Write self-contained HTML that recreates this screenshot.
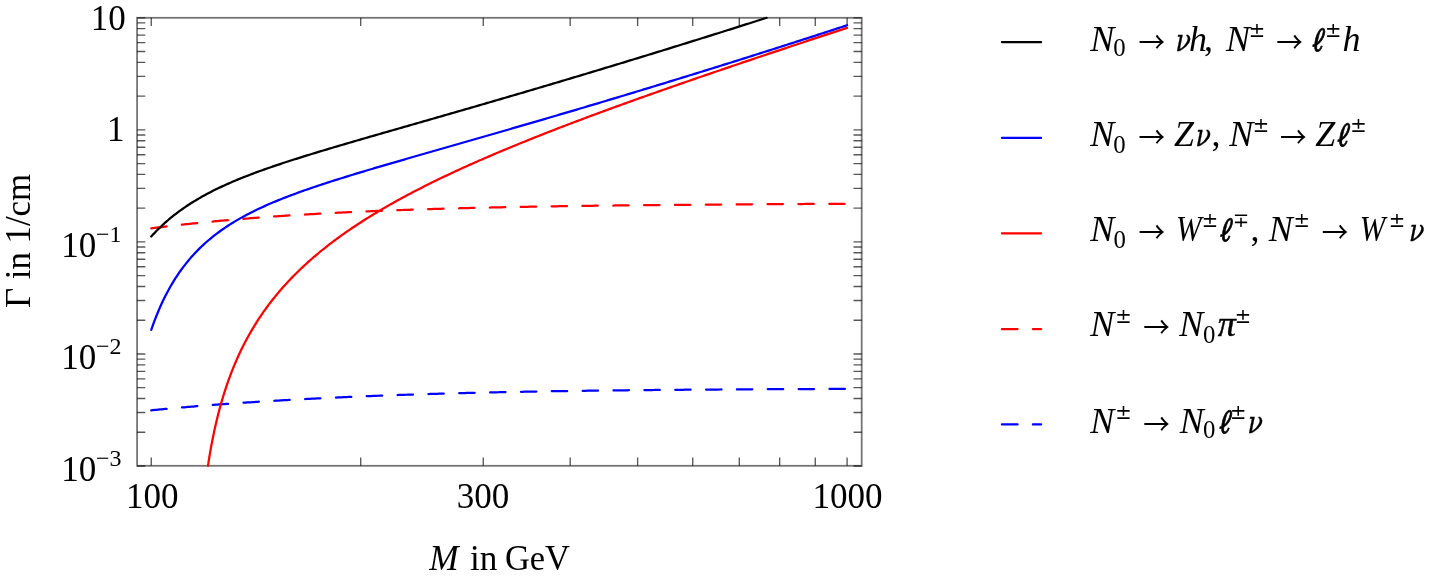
<!DOCTYPE html>
<html><head><meta charset="utf-8"><title>Decay widths</title>
<style>html,body{margin:0;padding:0;background:#fff;overflow:hidden;width:1429px;height:576px;}svg{display:block;}text{fill:#000;}</style></head>
<body><svg width="1429" height="576" viewBox="0 0 1429 576" font-family="'Liberation Serif', serif">
<rect x="137.10" y="17.80" width="724.60" height="448.00" fill="none" stroke="#000" stroke-opacity="0.54" stroke-width="1.8"/>
<path d="M151.25,465.80 V457.60 M151.25,17.80 V26.00 M360.72,465.80 V457.60 M360.72,17.80 V26.00 M483.25,465.80 V457.60 M483.25,17.80 V26.00 M570.19,465.80 V457.60 M570.19,17.80 V26.00 M637.63,465.80 V457.60 M637.63,17.80 V26.00 M692.73,465.80 V457.60 M692.73,17.80 V26.00 M739.31,465.80 V457.60 M739.31,17.80 V26.00 M779.67,465.80 V457.60 M779.67,17.80 V26.00 M815.26,465.80 V457.60 M815.26,17.80 V26.00 M847.10,465.80 V457.60 M847.10,17.80 V26.00 M137.10,466.00 H145.30 M861.70,466.00 H853.50 M137.10,432.27 H145.30 M861.70,432.27 H853.50 M137.10,412.54 H145.30 M861.70,412.54 H853.50 M137.10,398.54 H145.30 M861.70,398.54 H853.50 M137.10,387.68 H145.30 M861.70,387.68 H853.50 M137.10,378.81 H145.30 M861.70,378.81 H853.50 M137.10,371.31 H145.30 M861.70,371.31 H853.50 M137.10,364.81 H145.30 M861.70,364.81 H853.50 M137.10,359.08 H145.30 M861.70,359.08 H853.50 M137.10,353.95 H145.30 M861.70,353.95 H853.50 M137.10,320.22 H145.30 M861.70,320.22 H853.50 M137.10,300.49 H145.30 M861.70,300.49 H853.50 M137.10,286.49 H145.30 M861.70,286.49 H853.50 M137.10,275.63 H145.30 M861.70,275.63 H853.50 M137.10,266.76 H145.30 M861.70,266.76 H853.50 M137.10,259.26 H145.30 M861.70,259.26 H853.50 M137.10,252.76 H145.30 M861.70,252.76 H853.50 M137.10,247.03 H145.30 M861.70,247.03 H853.50 M137.10,241.90 H145.30 M861.70,241.90 H853.50 M137.10,208.17 H145.30 M861.70,208.17 H853.50 M137.10,188.44 H145.30 M861.70,188.44 H853.50 M137.10,174.44 H145.30 M861.70,174.44 H853.50 M137.10,163.58 H145.30 M861.70,163.58 H853.50 M137.10,154.71 H145.30 M861.70,154.71 H853.50 M137.10,147.21 H145.30 M861.70,147.21 H853.50 M137.10,140.71 H145.30 M861.70,140.71 H853.50 M137.10,134.98 H145.30 M861.70,134.98 H853.50 M137.10,129.85 H145.30 M861.70,129.85 H853.50 M137.10,96.12 H145.30 M861.70,96.12 H853.50 M137.10,76.39 H145.30 M861.70,76.39 H853.50 M137.10,62.39 H145.30 M861.70,62.39 H853.50 M137.10,51.53 H145.30 M861.70,51.53 H853.50 M137.10,42.66 H145.30 M861.70,42.66 H853.50 M137.10,35.16 H145.30 M861.70,35.16 H853.50 M137.10,28.66 H145.30 M861.70,28.66 H853.50 M137.10,22.93 H145.30 M861.70,22.93 H853.50 M137.10,17.80 H145.30 M861.70,17.80 H853.50" stroke="#000" stroke-opacity="0.66" stroke-width="1.35" fill="none"/>
<g fill="none" stroke-width="2.25" stroke-linejoin="round" stroke-linecap="round">
<path d="M151.25,410.28 L152.99,410.11 L154.74,409.94 L156.48,409.78 L158.23,409.61 L159.97,409.45 L161.71,409.28 L163.46,409.12 L165.20,408.96 L166.95,408.80 L168.69,408.64 L170.43,408.48 L172.18,408.33 L173.92,408.17 L175.67,408.01 L177.41,407.86 L179.15,407.71 L180.90,407.56 L182.64,407.41 L184.39,407.26 L186.13,407.11 L187.87,406.96 L189.62,406.81 L191.36,406.67 L193.11,406.52 L194.85,406.38 L196.59,406.24 L198.34,406.09 L200.08,405.95 L201.83,405.81 L203.57,405.67 L205.31,405.53 L207.06,405.40 L208.80,405.26 L210.55,405.13 L212.29,404.99 L214.03,404.86 L215.78,404.73 L217.52,404.59 L219.27,404.46 L221.01,404.33 L222.75,404.20 L224.50,404.08 L226.24,403.95 L227.99,403.82 L229.73,403.70 L231.47,403.57 L233.22,403.45 L234.96,403.33 L236.71,403.20 L238.45,403.08 L240.19,402.96 L241.94,402.84 L243.68,402.72 L245.43,402.61 L247.17,402.49 L248.91,402.37 L250.66,402.26 L252.40,402.14 L254.15,402.03 L255.89,401.92 L257.63,401.80 L259.38,401.69 L261.12,401.58 L262.87,401.47 L264.61,401.36 L266.35,401.25 L268.10,401.15 L269.84,401.04 L271.58,400.93 L273.33,400.83 L275.07,400.72 L276.82,400.62 L278.56,400.52 L280.30,400.42 L282.05,400.31 L283.79,400.21 L285.54,400.11 L287.28,400.01 L289.02,399.92 L290.77,399.82 L292.51,399.72 L294.26,399.62 L296.00,399.53 L297.74,399.43 L299.49,399.34 L301.23,399.24 L302.98,399.15 L304.72,399.06 L306.46,398.97 L308.21,398.88 L309.95,398.79 L311.70,398.70 L313.44,398.61 L315.18,398.52 L316.93,398.43 L318.67,398.35 L320.42,398.26 L322.16,398.17 L323.90,398.09 L325.65,398.00 L327.39,397.92 L329.14,397.84 L330.88,397.75 L332.62,397.67 L334.37,397.59 L336.11,397.51 L337.86,397.43 L339.60,397.35 L341.34,397.27 L343.09,397.19 L344.83,397.12 L346.58,397.04 L348.32,396.96 L350.06,396.89 L351.81,396.81 L353.55,396.74 L355.30,396.66 L357.04,396.59 L358.78,396.52 L360.53,396.44 L362.27,396.37 L364.02,396.30 L365.76,396.23 L367.50,396.16 L369.25,396.09 L370.99,396.02 L372.74,395.95 L374.48,395.89 L376.22,395.82 L377.97,395.75 L379.71,395.68 L381.46,395.62 L383.20,395.55 L384.94,395.49 L386.69,395.42 L388.43,395.36 L390.18,395.30 L391.92,395.23 L393.66,395.17 L395.41,395.11 L397.15,395.05 L398.90,394.99 L400.64,394.93 L402.38,394.87 L404.13,394.81 L405.87,394.75 L407.62,394.69 L409.36,394.63 L411.10,394.58 L412.85,394.52 L414.59,394.46 L416.34,394.41 L418.08,394.35 L419.82,394.30 L421.57,394.24 L423.31,394.19 L425.06,394.13 L426.80,394.08 L428.54,394.03 L430.29,393.98 L432.03,393.92 L433.78,393.87 L435.52,393.82 L437.26,393.77 L439.01,393.72 L440.75,393.67 L442.50,393.62 L444.24,393.57 L445.98,393.52 L447.73,393.48 L449.47,393.43 L451.22,393.38 L452.96,393.33 L454.70,393.29 L456.45,393.24 L458.19,393.19 L459.94,393.15 L461.68,393.10 L463.42,393.06 L465.17,393.02 L466.91,392.97 L468.66,392.93 L470.40,392.89 L472.14,392.84 L473.89,392.80 L475.63,392.76 L477.38,392.72 L479.12,392.68 L480.86,392.64 L482.61,392.59 L484.35,392.55 L486.10,392.51 L487.84,392.48 L489.58,392.44 L491.33,392.40 L493.07,392.36 L494.82,392.32 L496.56,392.28 L498.30,392.25 L500.05,392.21 L501.79,392.17 L503.53,392.14 L505.28,392.10 L507.02,392.06 L508.77,392.03 L510.51,391.99 L512.25,391.96 L514.00,391.92 L515.74,391.89 L517.49,391.86 L519.23,391.82 L520.97,391.79 L522.72,391.76 L524.46,391.72 L526.21,391.69 L527.95,391.66 L529.69,391.63 L531.44,391.60 L533.18,391.57 L534.93,391.54 L536.67,391.50 L538.41,391.47 L540.16,391.44 L541.90,391.41 L543.65,391.39 L545.39,391.36 L547.13,391.33 L548.88,391.30 L550.62,391.27 L552.37,391.24 L554.11,391.21 L555.85,391.19 L557.60,391.16 L559.34,391.13 L561.09,391.11 L562.83,391.08 L564.57,391.05 L566.32,391.03 L568.06,391.00 L569.81,390.98 L571.55,390.95 L573.29,390.93 L575.04,390.90 L576.78,390.88 L578.53,390.85 L580.27,390.83 L582.01,390.80 L583.76,390.78 L585.50,390.76 L587.25,390.73 L588.99,390.71 L590.73,390.69 L592.48,390.67 L594.22,390.64 L595.97,390.62 L597.71,390.60 L599.45,390.58 L601.20,390.56 L602.94,390.54 L604.69,390.51 L606.43,390.49 L608.17,390.47 L609.92,390.45 L611.66,390.43 L613.41,390.41 L615.15,390.39 L616.89,390.37 L618.64,390.35 L620.38,390.33 L622.13,390.32 L623.87,390.30 L625.61,390.28 L627.36,390.26 L629.10,390.24 L630.85,390.22 L632.59,390.21 L634.33,390.19 L636.08,390.17 L637.82,390.15 L639.57,390.14 L641.31,390.12 L643.05,390.10 L644.80,390.08 L646.54,390.07 L648.29,390.05 L650.03,390.04 L651.77,390.02 L653.52,390.00 L655.26,389.99 L657.01,389.97 L658.75,389.96 L660.49,389.94 L662.24,389.93 L663.98,389.91 L665.73,389.90 L667.47,389.88 L669.21,389.87 L670.96,389.85 L672.70,389.84 L674.45,389.82 L676.19,389.81 L677.93,389.80 L679.68,389.78 L681.42,389.77 L683.17,389.76 L684.91,389.74 L686.65,389.73 L688.40,389.72 L690.14,389.70 L691.89,389.69 L693.63,389.68 L695.37,389.66 L697.12,389.65 L698.86,389.64 L700.61,389.63 L702.35,389.61 L704.09,389.60 L705.84,389.59 L707.58,389.58 L709.33,389.57 L711.07,389.56 L712.81,389.54 L714.56,389.53 L716.30,389.52 L718.05,389.51 L719.79,389.50 L721.53,389.49 L723.28,389.48 L725.02,389.47 L726.77,389.46 L728.51,389.45 L730.25,389.43 L732.00,389.42 L733.74,389.41 L735.48,389.40 L737.23,389.39 L738.97,389.38 L740.72,389.37 L742.46,389.36 L744.20,389.35 L745.95,389.34 L747.69,389.33 L749.44,389.32 L751.18,389.32 L752.92,389.31 L754.67,389.30 L756.41,389.29 L758.16,389.28 L759.90,389.27 L761.64,389.26 L763.39,389.25 L765.13,389.24 L766.88,389.23 L768.62,389.22 L770.36,389.22 L772.11,389.21 L773.85,389.20 L775.60,389.19 L777.34,389.18 L779.08,389.17 L780.83,389.16 L782.57,389.16 L784.32,389.15 L786.06,389.14 L787.80,389.13 L789.55,389.12 L791.29,389.11 L793.04,389.11 L794.78,389.10 L796.52,389.09 L798.27,389.08 L800.01,389.07 L801.76,389.07 L803.50,389.06 L805.24,389.05 L806.99,389.04 L808.73,389.04 L810.48,389.03 L812.22,389.02 L813.96,389.01 L815.71,389.01 L817.45,389.00 L819.20,388.99 L820.94,388.98 L822.68,388.98 L824.43,388.97 L826.17,388.96 L827.92,388.95 L829.66,388.95 L831.40,388.94 L833.15,388.93 L834.89,388.92 L836.64,388.92 L838.38,388.91 L840.12,388.90 L841.87,388.89 L843.61,388.89 L845.36,388.88 L847.10,388.87" stroke="#0000ff" stroke-dasharray="15.4 15.455" />
<path d="M151.25,228.38 L152.99,228.16 L154.74,227.93 L156.48,227.71 L158.23,227.49 L159.97,227.27 L161.71,227.06 L163.46,226.84 L165.20,226.63 L166.95,226.42 L168.69,226.21 L170.43,226.00 L172.18,225.80 L173.92,225.60 L175.67,225.39 L177.41,225.20 L179.15,225.00 L180.90,224.80 L182.64,224.61 L184.39,224.41 L186.13,224.22 L187.87,224.03 L189.62,223.85 L191.36,223.66 L193.11,223.47 L194.85,223.29 L196.59,223.11 L198.34,222.93 L200.08,222.75 L201.83,222.58 L203.57,222.40 L205.31,222.23 L207.06,222.06 L208.80,221.89 L210.55,221.72 L212.29,221.55 L214.03,221.38 L215.78,221.22 L217.52,221.06 L219.27,220.90 L221.01,220.74 L222.75,220.58 L224.50,220.42 L226.24,220.26 L227.99,220.11 L229.73,219.96 L231.47,219.81 L233.22,219.66 L234.96,219.51 L236.71,219.36 L238.45,219.21 L240.19,219.07 L241.94,218.92 L243.68,218.78 L245.43,218.64 L247.17,218.50 L248.91,218.36 L250.66,218.22 L252.40,218.09 L254.15,217.95 L255.89,217.82 L257.63,217.69 L259.38,217.56 L261.12,217.42 L262.87,217.30 L264.61,217.17 L266.35,217.04 L268.10,216.92 L269.84,216.79 L271.58,216.67 L273.33,216.55 L275.07,216.42 L276.82,216.30 L278.56,216.19 L280.30,216.07 L282.05,215.95 L283.79,215.84 L285.54,215.72 L287.28,215.61 L289.02,215.49 L290.77,215.38 L292.51,215.27 L294.26,215.16 L296.00,215.05 L297.74,214.95 L299.49,214.84 L301.23,214.73 L302.98,214.63 L304.72,214.52 L306.46,214.42 L308.21,214.32 L309.95,214.22 L311.70,214.12 L313.44,214.02 L315.18,213.92 L316.93,213.82 L318.67,213.73 L320.42,213.63 L322.16,213.54 L323.90,213.44 L325.65,213.35 L327.39,213.26 L329.14,213.17 L330.88,213.08 L332.62,212.99 L334.37,212.90 L336.11,212.81 L337.86,212.72 L339.60,212.64 L341.34,212.55 L343.09,212.46 L344.83,212.38 L346.58,212.30 L348.32,212.21 L350.06,212.13 L351.81,212.05 L353.55,211.97 L355.30,211.89 L357.04,211.81 L358.78,211.73 L360.53,211.66 L362.27,211.58 L364.02,211.50 L365.76,211.43 L367.50,211.35 L369.25,211.28 L370.99,211.21 L372.74,211.13 L374.48,211.06 L376.22,210.99 L377.97,210.92 L379.71,210.85 L381.46,210.78 L383.20,210.71 L384.94,210.64 L386.69,210.58 L388.43,210.51 L390.18,210.44 L391.92,210.38 L393.66,210.31 L395.41,210.25 L397.15,210.19 L398.90,210.12 L400.64,210.06 L402.38,210.00 L404.13,209.94 L405.87,209.88 L407.62,209.82 L409.36,209.76 L411.10,209.70 L412.85,209.64 L414.59,209.58 L416.34,209.52 L418.08,209.46 L419.82,209.41 L421.57,209.35 L423.31,209.30 L425.06,209.24 L426.80,209.19 L428.54,209.13 L430.29,209.08 L432.03,209.03 L433.78,208.97 L435.52,208.92 L437.26,208.87 L439.01,208.82 L440.75,208.77 L442.50,208.72 L444.24,208.67 L445.98,208.62 L447.73,208.57 L449.47,208.52 L451.22,208.48 L452.96,208.43 L454.70,208.38 L456.45,208.33 L458.19,208.29 L459.94,208.24 L461.68,208.20 L463.42,208.15 L465.17,208.11 L466.91,208.06 L468.66,208.02 L470.40,207.98 L472.14,207.94 L473.89,207.89 L475.63,207.85 L477.38,207.81 L479.12,207.77 L480.86,207.73 L482.61,207.69 L484.35,207.65 L486.10,207.61 L487.84,207.57 L489.58,207.53 L491.33,207.49 L493.07,207.45 L494.82,207.41 L496.56,207.38 L498.30,207.34 L500.05,207.30 L501.79,207.27 L503.53,207.23 L505.28,207.19 L507.02,207.16 L508.77,207.12 L510.51,207.09 L512.25,207.05 L514.00,207.02 L515.74,206.99 L517.49,206.95 L519.23,206.92 L520.97,206.89 L522.72,206.85 L524.46,206.82 L526.21,206.79 L527.95,206.76 L529.69,206.73 L531.44,206.70 L533.18,206.66 L534.93,206.63 L536.67,206.60 L538.41,206.57 L540.16,206.54 L541.90,206.51 L543.65,206.49 L545.39,206.46 L547.13,206.43 L548.88,206.40 L550.62,206.37 L552.37,206.34 L554.11,206.32 L555.85,206.29 L557.60,206.26 L559.34,206.23 L561.09,206.21 L562.83,206.18 L564.57,206.15 L566.32,206.13 L568.06,206.10 L569.81,206.08 L571.55,206.05 L573.29,206.03 L575.04,206.00 L576.78,205.98 L578.53,205.95 L580.27,205.93 L582.01,205.91 L583.76,205.88 L585.50,205.86 L587.25,205.84 L588.99,205.81 L590.73,205.79 L592.48,205.77 L594.22,205.74 L595.97,205.72 L597.71,205.70 L599.45,205.68 L601.20,205.66 L602.94,205.63 L604.69,205.61 L606.43,205.59 L608.17,205.57 L609.92,205.55 L611.66,205.53 L613.41,205.51 L615.15,205.49 L616.89,205.47 L618.64,205.45 L620.38,205.43 L622.13,205.41 L623.87,205.39 L625.61,205.37 L627.36,205.35 L629.10,205.33 L630.85,205.31 L632.59,205.30 L634.33,205.28 L636.08,205.26 L637.82,205.24 L639.57,205.22 L641.31,205.21 L643.05,205.19 L644.80,205.17 L646.54,205.15 L648.29,205.14 L650.03,205.12 L651.77,205.10 L653.52,205.08 L655.26,205.07 L657.01,205.05 L658.75,205.04 L660.49,205.02 L662.24,205.00 L663.98,204.99 L665.73,204.97 L667.47,204.95 L669.21,204.94 L670.96,204.92 L672.70,204.91 L674.45,204.89 L676.19,204.88 L677.93,204.86 L679.68,204.85 L681.42,204.83 L683.17,204.82 L684.91,204.80 L686.65,204.79 L688.40,204.77 L690.14,204.76 L691.89,204.75 L693.63,204.73 L695.37,204.72 L697.12,204.70 L698.86,204.69 L700.61,204.68 L702.35,204.66 L704.09,204.65 L705.84,204.64 L707.58,204.62 L709.33,204.61 L711.07,204.60 L712.81,204.58 L714.56,204.57 L716.30,204.56 L718.05,204.55 L719.79,204.53 L721.53,204.52 L723.28,204.51 L725.02,204.49 L726.77,204.48 L728.51,204.47 L730.25,204.46 L732.00,204.45 L733.74,204.43 L735.48,204.42 L737.23,204.41 L738.97,204.40 L740.72,204.39 L742.46,204.37 L744.20,204.36 L745.95,204.35 L747.69,204.34 L749.44,204.33 L751.18,204.32 L752.92,204.31 L754.67,204.29 L756.41,204.28 L758.16,204.27 L759.90,204.26 L761.64,204.25 L763.39,204.24 L765.13,204.23 L766.88,204.22 L768.62,204.21 L770.36,204.20 L772.11,204.19 L773.85,204.17 L775.60,204.16 L777.34,204.15 L779.08,204.14 L780.83,204.13 L782.57,204.12 L784.32,204.11 L786.06,204.10 L787.80,204.09 L789.55,204.08 L791.29,204.07 L793.04,204.06 L794.78,204.05 L796.52,204.04 L798.27,204.03 L800.01,204.02 L801.76,204.01 L803.50,204.00 L805.24,203.99 L806.99,203.98 L808.73,203.97 L810.48,203.96 L812.22,203.95 L813.96,203.94 L815.71,203.93 L817.45,203.92 L819.20,203.91 L820.94,203.91 L822.68,203.90 L824.43,203.89 L826.17,203.88 L827.92,203.87 L829.66,203.86 L831.40,203.85 L833.15,203.84 L834.89,203.83 L836.64,203.82 L838.38,203.81 L840.12,203.80 L841.87,203.79 L843.61,203.78 L845.36,203.77 L847.10,203.77" stroke="#ff0000" stroke-dasharray="15.4 15.455" />
<path d="M207.97,465.80 L207.97,465.79 L207.98,465.74 L207.99,465.67 L208.00,465.58 L208.02,465.45 L208.04,465.30 L208.07,465.11 L208.10,464.91 L208.14,464.67 L208.18,464.41 L208.22,464.12 L208.27,463.80 L208.33,463.46 L208.38,463.09 L208.44,462.69 L208.51,462.27 L208.58,461.83 L208.65,461.36 L208.73,460.87 L208.82,460.35 L208.90,459.81 L208.99,459.24 L209.09,458.65 L209.19,458.04 L209.29,457.41 L209.40,456.76 L209.51,456.09 L209.63,455.39 L209.75,454.68 L209.87,453.95 L210.00,453.20 L210.13,452.43 L210.27,451.64 L210.41,450.83 L210.56,450.01 L210.71,449.17 L210.86,448.32 L211.02,447.45 L211.18,446.57 L211.34,445.67 L211.51,444.75 L211.69,443.83 L211.87,442.89 L212.05,441.94 L212.24,440.98 L212.43,440.00 L212.62,439.02 L212.82,438.02 L213.02,437.01 L213.23,436.00 L213.44,434.97 L213.65,433.94 L213.87,432.90 L214.09,431.85 L214.32,430.79 L214.55,429.73 L214.79,428.65 L215.03,427.58 L215.27,426.49 L215.51,425.40 L215.76,424.31 L216.02,423.21 L216.28,422.11 L216.54,421.00 L216.81,419.88 L217.08,418.77 L217.35,417.65 L217.63,416.53 L217.91,415.40 L218.19,414.28 L218.48,413.15 L218.78,412.01 L219.07,410.88 L219.37,409.75 L219.68,408.61 L219.99,407.47 L220.30,406.33 L220.61,405.20 L220.93,404.06 L221.26,402.92 L221.58,401.78 L221.91,400.64 L222.25,399.50 L222.59,398.36 L222.93,397.23 L223.27,396.09 L223.62,394.96 L223.97,393.82 L224.33,392.69 L224.69,391.56 L225.05,390.43 L225.42,389.30 L225.79,388.18 L226.16,387.05 L226.54,385.93 L226.92,384.81 L227.31,383.69 L227.70,382.58 L228.09,381.47 L228.48,380.36 L228.88,379.25 L229.28,378.14 L229.69,377.04 L230.10,375.94 L230.51,374.85 L230.92,373.75 L231.34,372.67 L231.76,371.58 L232.19,370.50 L232.62,369.42 L233.05,368.34 L233.49,367.27 L233.92,366.20 L234.37,365.13 L234.81,364.07 L235.26,363.01 L235.71,361.95 L236.17,360.90 L236.62,359.85 L236.65,359.80 L238.18,356.37 L239.71,353.06 L241.24,349.85 L242.77,346.75 L244.30,343.73 L245.83,340.80 L247.36,337.96 L248.89,335.19 L250.42,332.49 L251.95,329.86 L253.48,327.30 L255.01,324.80 L256.54,322.36 L258.07,319.98 L259.60,317.65 L261.13,315.37 L262.66,313.14 L264.19,310.96 L265.72,308.82 L267.25,306.73 L268.78,304.68 L270.31,302.66 L271.84,300.69 L273.37,298.75 L274.90,296.84 L276.43,294.97 L277.96,293.13 L279.49,291.32 L281.02,289.55 L282.55,287.80 L284.08,286.08 L285.61,284.38 L287.14,282.72 L288.67,281.07 L290.20,279.46 L291.73,277.86 L293.25,276.29 L294.78,274.74 L296.31,273.21 L297.84,271.71 L299.37,270.22 L300.90,268.76 L302.43,267.31 L303.96,265.88 L305.49,264.47 L307.02,263.07 L308.55,261.70 L310.08,260.34 L311.61,258.99 L313.14,257.66 L314.67,256.35 L316.20,255.05 L317.73,253.77 L319.26,252.50 L320.79,251.24 L322.32,250.00 L323.85,248.77 L325.38,247.55 L326.91,246.35 L328.44,245.16 L329.97,243.97 L331.50,242.81 L333.03,241.65 L334.56,240.50 L336.09,239.36 L337.62,238.24 L339.15,237.12 L340.68,236.02 L342.21,234.92 L343.74,233.84 L345.27,232.76 L346.80,231.69 L348.33,230.63 L349.86,229.58 L351.39,228.54 L352.92,227.51 L354.45,226.49 L355.98,225.47 L357.51,224.46 L359.04,223.46 L360.57,222.47 L362.10,221.48 L363.63,220.51 L365.16,219.54 L366.69,218.57 L368.22,217.62 L369.75,216.67 L371.28,215.72 L372.81,214.79 L374.34,213.86 L375.87,212.93 L377.40,212.01 L378.93,211.10 L380.46,210.20 L381.99,209.30 L383.52,208.40 L385.05,207.51 L386.58,206.63 L388.11,205.75 L389.64,204.88 L391.17,204.01 L392.70,203.15 L394.23,202.29 L395.76,201.44 L397.29,200.59 L398.82,199.75 L400.35,198.91 L401.88,198.08 L403.41,197.25 L404.94,196.43 L406.47,195.61 L408.00,194.79 L409.53,193.98 L411.06,193.17 L412.59,192.37 L414.12,191.57 L415.65,190.78 L417.18,189.99 L418.71,189.20 L420.24,188.42 L421.77,187.64 L423.30,186.86 L424.83,186.09 L426.36,185.32 L427.89,184.56 L429.42,183.80 L430.95,183.04 L432.48,182.29 L434.01,181.53 L435.54,180.79 L437.07,180.04 L438.60,179.30 L440.13,178.56 L441.66,177.83 L443.19,177.10 L444.72,176.37 L446.25,175.64 L447.78,174.92 L449.31,174.20 L450.84,173.48 L452.37,172.76 L453.90,172.05 L455.43,171.34 L456.96,170.64 L458.49,169.93 L460.02,169.23 L461.55,168.53 L463.08,167.83 L464.61,167.14 L466.14,166.45 L467.67,165.76 L469.20,165.07 L470.73,164.39 L472.26,163.71 L473.79,163.03 L475.32,162.35 L476.85,161.67 L478.38,161.00 L479.91,160.33 L481.44,159.66 L482.97,158.99 L484.50,158.33 L486.03,157.67 L487.56,157.01 L489.09,156.35 L490.62,155.69 L492.15,155.04 L493.68,154.38 L495.21,153.73 L496.74,153.08 L498.27,152.44 L499.80,151.79 L501.33,151.15 L502.86,150.50 L504.39,149.86 L505.92,149.23 L507.45,148.59 L508.98,147.96 L510.51,147.32 L512.04,146.69 L513.57,146.06 L515.10,145.43 L516.63,144.80 L518.16,144.18 L519.69,143.56 L521.22,142.93 L522.75,142.31 L524.28,141.69 L525.81,141.08 L527.34,140.46 L528.87,139.84 L530.40,139.23 L531.93,138.62 L533.46,138.01 L534.99,137.40 L536.52,136.79 L538.05,136.18 L539.58,135.58 L541.11,134.97 L542.64,134.37 L544.17,133.77 L545.70,133.17 L547.23,132.57 L548.76,131.97 L550.29,131.38 L551.82,130.78 L553.35,130.19 L554.88,129.59 L556.41,129.00 L557.94,128.41 L559.47,127.82 L561.00,127.23 L562.53,126.65 L564.06,126.06 L565.59,125.47 L567.12,124.89 L568.65,124.31 L570.18,123.72 L571.71,123.14 L573.24,122.56 L574.77,121.98 L576.30,121.41 L577.83,120.83 L579.36,120.25 L580.89,119.68 L582.42,119.10 L583.95,118.53 L585.48,117.96 L587.01,117.38 L588.54,116.81 L590.07,116.24 L591.60,115.67 L593.13,115.11 L594.66,114.54 L596.19,113.97 L597.72,113.41 L599.25,112.84 L600.78,112.28 L602.31,111.72 L603.84,111.15 L605.37,110.59 L606.90,110.03 L608.43,109.47 L609.96,108.91 L611.49,108.35 L613.02,107.80 L614.55,107.24 L616.08,106.68 L617.61,106.13 L619.14,105.57 L620.67,105.02 L622.20,104.46 L623.73,103.91 L625.26,103.36 L626.79,102.81 L628.32,102.26 L629.85,101.71 L631.38,101.16 L632.91,100.61 L634.44,100.06 L635.97,99.51 L637.50,98.97 L639.03,98.42 L640.56,97.87 L642.09,97.33 L643.62,96.79 L645.15,96.24 L646.68,95.70 L648.21,95.16 L649.74,94.61 L651.27,94.07 L652.80,93.53 L654.33,92.99 L655.86,92.45 L657.39,91.91 L658.92,91.37 L660.45,90.83 L661.98,90.30 L663.50,89.76 L665.03,89.22 L666.56,88.69 L668.09,88.15 L669.62,87.62 L671.15,87.08 L672.68,86.55 L674.21,86.01 L675.74,85.48 L677.27,84.95 L678.80,84.41 L680.33,83.88 L681.86,83.35 L683.39,82.82 L684.92,82.29 L686.45,81.76 L687.98,81.23 L689.51,80.70 L691.04,80.17 L692.57,79.64 L694.10,79.12 L695.63,78.59 L697.16,78.06 L698.69,77.53 L700.22,77.01 L701.75,76.48 L703.28,75.96 L704.81,75.43 L706.34,74.91 L707.87,74.38 L709.40,73.86 L710.93,73.33 L712.46,72.81 L713.99,72.29 L715.52,71.77 L717.05,71.24 L718.58,70.72 L720.11,70.20 L721.64,69.68 L723.17,69.16 L724.70,68.64 L726.23,68.12 L727.76,67.60 L729.29,67.08 L730.82,66.56 L732.35,66.04 L733.88,65.52 L735.41,65.00 L736.94,64.49 L738.47,63.97 L740.00,63.45 L741.53,62.93 L743.06,62.42 L744.59,61.90 L746.12,61.38 L747.65,60.87 L749.18,60.35 L750.71,59.84 L752.24,59.32 L753.77,58.81 L755.30,58.29 L756.83,57.78 L758.36,57.26 L759.89,56.75 L761.42,56.24 L762.95,55.72 L764.48,55.21 L766.01,54.70 L767.54,54.19 L769.07,53.67 L770.60,53.16 L772.13,52.65 L773.66,52.14 L775.19,51.63 L776.72,51.12 L778.25,50.61 L779.78,50.10 L781.31,49.59 L782.84,49.08 L784.37,48.57 L785.90,48.06 L787.43,47.55 L788.96,47.04 L790.49,46.53 L792.02,46.02 L793.55,45.51 L795.08,45.00 L796.61,44.50 L798.14,43.99 L799.67,43.48 L801.20,42.97 L802.73,42.47 L804.26,41.96 L805.79,41.45 L807.32,40.94 L808.85,40.44 L810.38,39.93 L811.91,39.43 L813.44,38.92 L814.97,38.41 L816.50,37.91 L818.03,37.40 L819.56,36.90 L821.09,36.39 L822.62,35.89 L824.15,35.38 L825.68,34.88 L827.21,34.37 L828.74,33.87 L830.27,33.36 L831.80,32.86 L833.33,32.36 L834.86,31.85 L836.39,31.35 L837.92,30.85 L839.45,30.34 L840.98,29.84 L842.51,29.34 L844.04,28.83 L845.57,28.33 L847.10,27.83" stroke="#ff0000" />
<path d="M151.25,329.88 L152.99,324.91 L154.74,320.19 L156.48,315.72 L158.23,311.46 L159.97,307.40 L161.71,303.52 L163.46,299.83 L165.20,296.29 L166.95,292.90 L168.69,289.66 L170.43,286.55 L172.18,283.56 L173.92,280.69 L175.67,277.93 L177.41,275.27 L179.15,272.71 L180.90,270.24 L182.64,267.86 L184.39,265.56 L186.13,263.33 L187.87,261.19 L189.62,259.11 L191.36,257.10 L193.11,255.15 L194.85,253.26 L196.59,251.43 L198.34,249.65 L200.08,247.92 L201.83,246.25 L203.57,244.62 L205.31,243.04 L207.06,241.50 L208.80,240.00 L210.55,238.54 L212.29,237.11 L214.03,235.73 L215.78,234.38 L217.52,233.06 L219.27,231.77 L221.01,230.51 L222.75,229.28 L224.50,228.08 L226.24,226.91 L227.99,225.76 L229.73,224.64 L231.47,223.54 L233.22,222.46 L234.96,221.41 L236.71,220.37 L238.45,219.36 L240.19,218.36 L241.94,217.39 L243.68,216.43 L245.43,215.49 L247.17,214.56 L248.91,213.66 L250.66,212.76 L252.40,211.88 L254.15,211.02 L255.89,210.17 L257.63,209.33 L259.38,208.51 L261.12,207.70 L262.87,206.90 L264.61,206.11 L266.35,205.33 L268.10,204.56 L269.84,203.80 L271.58,203.06 L273.33,202.32 L275.07,201.59 L276.82,200.87 L278.56,200.16 L280.30,199.45 L282.05,198.76 L283.79,198.07 L285.54,197.39 L287.28,196.71 L289.02,196.04 L290.77,195.38 L292.51,194.73 L294.26,194.08 L296.00,193.44 L297.74,192.80 L299.49,192.17 L301.23,191.54 L302.98,190.92 L304.72,190.31 L306.46,189.70 L308.21,189.09 L309.95,188.49 L311.70,187.89 L313.44,187.29 L315.18,186.70 L316.93,186.12 L318.67,185.54 L320.42,184.96 L322.16,184.38 L323.90,183.81 L325.65,183.24 L327.39,182.67 L329.14,182.11 L330.88,181.55 L332.62,180.99 L334.37,180.44 L336.11,179.88 L337.86,179.33 L339.60,178.78 L341.34,178.24 L343.09,177.70 L344.83,177.15 L346.58,176.61 L348.32,176.08 L350.06,175.54 L351.81,175.01 L353.55,174.48 L355.30,173.94 L357.04,173.42 L358.78,172.89 L360.53,172.36 L362.27,171.84 L364.02,171.31 L365.76,170.79 L367.50,170.27 L369.25,169.75 L370.99,169.23 L372.74,168.72 L374.48,168.20 L376.22,167.69 L377.97,167.17 L379.71,166.66 L381.46,166.15 L383.20,165.63 L384.94,165.12 L386.69,164.61 L388.43,164.10 L390.18,163.59 L391.92,163.09 L393.66,162.58 L395.41,162.07 L397.15,161.57 L398.90,161.06 L400.64,160.56 L402.38,160.05 L404.13,159.55 L405.87,159.04 L407.62,158.54 L409.36,158.04 L411.10,157.53 L412.85,157.03 L414.59,156.53 L416.34,156.03 L418.08,155.53 L419.82,155.02 L421.57,154.52 L423.31,154.02 L425.06,153.52 L426.80,153.02 L428.54,152.52 L430.29,152.02 L432.03,151.52 L433.78,151.02 L435.52,150.52 L437.26,150.02 L439.01,149.52 L440.75,149.02 L442.50,148.52 L444.24,148.02 L445.98,147.52 L447.73,147.02 L449.47,146.52 L451.22,146.02 L452.96,145.52 L454.70,145.02 L456.45,144.52 L458.19,144.02 L459.94,143.52 L461.68,143.02 L463.42,142.52 L465.17,142.02 L466.91,141.52 L468.66,141.02 L470.40,140.52 L472.14,140.02 L473.89,139.52 L475.63,139.02 L477.38,138.52 L479.12,138.02 L480.86,137.51 L482.61,137.01 L484.35,136.51 L486.10,136.01 L487.84,135.51 L489.58,135.00 L491.33,134.50 L493.07,134.00 L494.82,133.50 L496.56,132.99 L498.30,132.49 L500.05,131.99 L501.79,131.48 L503.53,130.98 L505.28,130.47 L507.02,129.97 L508.77,129.46 L510.51,128.96 L512.25,128.45 L514.00,127.95 L515.74,127.44 L517.49,126.94 L519.23,126.43 L520.97,125.92 L522.72,125.42 L524.46,124.91 L526.21,124.40 L527.95,123.89 L529.69,123.39 L531.44,122.88 L533.18,122.37 L534.93,121.86 L536.67,121.35 L538.41,120.84 L540.16,120.33 L541.90,119.82 L543.65,119.31 L545.39,118.80 L547.13,118.29 L548.88,117.78 L550.62,117.27 L552.37,116.75 L554.11,116.24 L555.85,115.73 L557.60,115.22 L559.34,114.70 L561.09,114.19 L562.83,113.68 L564.57,113.16 L566.32,112.65 L568.06,112.13 L569.81,111.62 L571.55,111.10 L573.29,110.59 L575.04,110.07 L576.78,109.55 L578.53,109.04 L580.27,108.52 L582.01,108.00 L583.76,107.49 L585.50,106.97 L587.25,106.45 L588.99,105.93 L590.73,105.41 L592.48,104.89 L594.22,104.37 L595.97,103.85 L597.71,103.33 L599.45,102.81 L601.20,102.29 L602.94,101.77 L604.69,101.25 L606.43,100.72 L608.17,100.20 L609.92,99.68 L611.66,99.16 L613.41,98.63 L615.15,98.11 L616.89,97.58 L618.64,97.06 L620.38,96.53 L622.13,96.01 L623.87,95.48 L625.61,94.96 L627.36,94.43 L629.10,93.90 L630.85,93.38 L632.59,92.85 L634.33,92.32 L636.08,91.79 L637.82,91.27 L639.57,90.74 L641.31,90.21 L643.05,89.68 L644.80,89.15 L646.54,88.62 L648.29,88.09 L650.03,87.56 L651.77,87.03 L653.52,86.50 L655.26,85.96 L657.01,85.43 L658.75,84.90 L660.49,84.37 L662.24,83.83 L663.98,83.30 L665.73,82.76 L667.47,82.23 L669.21,81.70 L670.96,81.16 L672.70,80.62 L674.45,80.09 L676.19,79.55 L677.93,79.02 L679.68,78.48 L681.42,77.94 L683.17,77.40 L684.91,76.87 L686.65,76.33 L688.40,75.79 L690.14,75.25 L691.89,74.71 L693.63,74.17 L695.37,73.63 L697.12,73.09 L698.86,72.55 L700.61,72.01 L702.35,71.47 L704.09,70.92 L705.84,70.38 L707.58,69.84 L709.33,69.30 L711.07,68.75 L712.81,68.21 L714.56,67.67 L716.30,67.12 L718.05,66.58 L719.79,66.03 L721.53,65.49 L723.28,64.94 L725.02,64.39 L726.77,63.85 L728.51,63.30 L730.25,62.75 L732.00,62.20 L733.74,61.66 L735.48,61.11 L737.23,60.56 L738.97,60.01 L740.72,59.46 L742.46,58.91 L744.20,58.36 L745.95,57.81 L747.69,57.26 L749.44,56.71 L751.18,56.16 L752.92,55.60 L754.67,55.05 L756.41,54.50 L758.16,53.95 L759.90,53.39 L761.64,52.84 L763.39,52.28 L765.13,51.73 L766.88,51.18 L768.62,50.62 L770.36,50.06 L772.11,49.51 L773.85,48.95 L775.60,48.40 L777.34,47.84 L779.08,47.28 L780.83,46.72 L782.57,46.16 L784.32,45.61 L786.06,45.05 L787.80,44.49 L789.55,43.93 L791.29,43.37 L793.04,42.81 L794.78,42.25 L796.52,41.69 L798.27,41.13 L800.01,40.56 L801.76,40.00 L803.50,39.44 L805.24,38.88 L806.99,38.31 L808.73,37.75 L810.48,37.19 L812.22,36.62 L813.96,36.06 L815.71,35.49 L817.45,34.93 L819.20,34.36 L820.94,33.79 L822.68,33.23 L824.43,32.66 L826.17,32.09 L827.92,31.53 L829.66,30.96 L831.40,30.39 L833.15,29.82 L834.89,29.25 L836.64,28.68 L838.38,28.11 L840.12,27.54 L841.87,26.97 L843.61,26.40 L845.36,25.83 L847.10,25.26" stroke="#0000ff" />
<path d="M151.25,236.51 L152.79,234.82 L154.33,233.18 L155.88,231.58 L157.42,230.01 L158.96,228.48 L160.50,226.99 L162.05,225.53 L163.59,224.10 L165.13,222.71 L166.67,221.35 L168.22,220.02 L169.76,218.71 L171.30,217.44 L172.84,216.19 L174.38,214.97 L175.93,213.77 L177.47,212.60 L179.01,211.45 L180.55,210.33 L182.10,209.22 L183.64,208.14 L185.18,207.08 L186.72,206.04 L188.27,205.02 L189.81,204.01 L191.35,203.03 L192.89,202.06 L194.43,201.11 L195.98,200.18 L197.52,199.26 L199.06,198.36 L200.60,197.47 L202.15,196.60 L203.69,195.74 L205.23,194.90 L206.77,194.07 L208.32,193.25 L209.86,192.44 L211.40,191.65 L212.94,190.87 L214.48,190.09 L216.03,189.33 L217.57,188.58 L219.11,187.84 L220.65,187.11 L222.20,186.39 L223.74,185.68 L225.28,184.98 L226.82,184.28 L228.37,183.60 L229.91,182.92 L231.45,182.25 L232.99,181.59 L234.53,180.93 L236.08,180.29 L237.62,179.65 L239.16,179.01 L240.70,178.39 L242.25,177.77 L243.79,177.15 L245.33,176.54 L246.87,175.94 L248.42,175.34 L249.96,174.75 L251.50,174.16 L253.04,173.58 L254.58,173.00 L256.13,172.43 L257.67,171.87 L259.21,171.30 L260.75,170.74 L262.30,170.19 L263.84,169.64 L265.38,169.09 L266.92,168.55 L268.47,168.01 L270.01,167.47 L271.55,166.94 L273.09,166.41 L274.64,165.89 L276.18,165.36 L277.72,164.84 L279.26,164.33 L280.80,163.81 L282.35,163.30 L283.89,162.79 L285.43,162.29 L286.97,161.78 L288.52,161.28 L290.06,160.78 L291.60,160.29 L293.14,159.79 L294.69,159.30 L296.23,158.81 L297.77,158.32 L299.31,157.84 L300.85,157.35 L302.40,156.87 L303.94,156.39 L305.48,155.91 L307.02,155.43 L308.57,154.95 L310.11,154.48 L311.65,154.00 L313.19,153.53 L314.74,153.06 L316.28,152.59 L317.82,152.12 L319.36,151.66 L320.90,151.19 L322.45,150.73 L323.99,150.26 L325.53,149.80 L327.07,149.34 L328.62,148.88 L330.16,148.42 L331.70,147.96 L333.24,147.50 L334.79,147.04 L336.33,146.59 L337.87,146.13 L339.41,145.68 L340.95,145.22 L342.50,144.77 L344.04,144.32 L345.58,143.86 L347.12,143.41 L348.67,142.96 L350.21,142.51 L351.75,142.06 L353.29,141.61 L354.84,141.16 L356.38,140.71 L357.92,140.26 L359.46,139.82 L361.00,139.37 L362.55,138.92 L364.09,138.48 L365.63,138.03 L367.17,137.58 L368.72,137.14 L370.26,136.69 L371.80,136.25 L373.34,135.80 L374.89,135.36 L376.43,134.91 L377.97,134.47 L379.51,134.02 L381.05,133.58 L382.60,133.14 L384.14,132.69 L385.68,132.25 L387.22,131.81 L388.77,131.36 L390.31,130.92 L391.85,130.48 L393.39,130.03 L394.94,129.59 L396.48,129.15 L398.02,128.71 L399.56,128.26 L401.10,127.82 L402.65,127.38 L404.19,126.94 L405.73,126.49 L407.27,126.05 L408.82,125.61 L410.36,125.17 L411.90,124.73 L413.44,124.28 L414.99,123.84 L416.53,123.40 L418.07,122.96 L419.61,122.51 L421.15,122.07 L422.70,121.63 L424.24,121.18 L425.78,120.74 L427.32,120.30 L428.87,119.86 L430.41,119.41 L431.95,118.97 L433.49,118.53 L435.04,118.08 L436.58,117.64 L438.12,117.20 L439.66,116.75 L441.20,116.31 L442.75,115.87 L444.29,115.42 L445.83,114.98 L447.37,114.53 L448.92,114.09 L450.46,113.64 L452.00,113.20 L453.54,112.75 L455.09,112.31 L456.63,111.86 L458.17,111.42 L459.71,110.97 L461.25,110.53 L462.80,110.08 L464.34,109.64 L465.88,109.19 L467.42,108.74 L468.97,108.30 L470.51,107.85 L472.05,107.40 L473.59,106.96 L475.14,106.51 L476.68,106.06 L478.22,105.62 L479.76,105.17 L481.31,104.72 L482.85,104.27 L484.39,103.82 L485.93,103.37 L487.47,102.93 L489.02,102.48 L490.56,102.03 L492.10,101.58 L493.64,101.13 L495.19,100.68 L496.73,100.23 L498.27,99.78 L499.81,99.33 L501.36,98.88 L502.90,98.43 L504.44,97.98 L505.98,97.53 L507.52,97.07 L509.07,96.62 L510.61,96.17 L512.15,95.72 L513.69,95.27 L515.24,94.81 L516.78,94.36 L518.32,93.91 L519.86,93.46 L521.41,93.00 L522.95,92.55 L524.49,92.09 L526.03,91.64 L527.57,91.19 L529.12,90.73 L530.66,90.28 L532.20,89.82 L533.74,89.37 L535.29,88.91 L536.83,88.46 L538.37,88.00 L539.91,87.54 L541.46,87.09 L543.00,86.63 L544.54,86.17 L546.08,85.72 L547.62,85.26 L549.17,84.80 L550.71,84.34 L552.25,83.89 L553.79,83.43 L555.34,82.97 L556.88,82.51 L558.42,82.05 L559.96,81.59 L561.51,81.13 L563.05,80.67 L564.59,80.21 L566.13,79.75 L567.67,79.29 L569.22,78.83 L570.76,78.37 L572.30,77.91 L573.84,77.45 L575.39,76.99 L576.93,76.52 L578.47,76.06 L580.01,75.60 L581.56,75.14 L583.10,74.67 L584.64,74.21 L586.18,73.75 L587.72,73.28 L589.27,72.82 L590.81,72.36 L592.35,71.89 L593.89,71.43 L595.44,70.96 L596.98,70.50 L598.52,70.03 L600.06,69.57 L601.61,69.10 L603.15,68.63 L604.69,68.17 L606.23,67.70 L607.77,67.24 L609.32,66.77 L610.86,66.30 L612.40,65.83 L613.94,65.37 L615.49,64.90 L617.03,64.43 L618.57,63.96 L620.11,63.49 L621.66,63.02 L623.20,62.55 L624.74,62.08 L626.28,61.61 L627.82,61.14 L629.37,60.67 L630.91,60.20 L632.45,59.73 L633.99,59.26 L635.54,58.79 L637.08,58.32 L638.62,57.85 L640.16,57.37 L641.71,56.90 L643.25,56.43 L644.79,55.96 L646.33,55.48 L647.87,55.01 L649.42,54.54 L650.96,54.06 L652.50,53.59 L654.04,53.11 L655.59,52.64 L657.13,52.16 L658.67,51.69 L660.21,51.21 L661.76,50.74 L663.30,50.26 L664.84,49.79 L666.38,49.31 L667.92,48.83 L669.47,48.36 L671.01,47.88 L672.55,47.40 L674.09,46.92 L675.64,46.45 L677.18,45.97 L678.72,45.49 L680.26,45.01 L681.81,44.53 L683.35,44.05 L684.89,43.57 L686.43,43.09 L687.98,42.61 L689.52,42.13 L691.06,41.65 L692.60,41.17 L694.14,40.69 L695.69,40.21 L697.23,39.73 L698.77,39.25 L700.31,38.76 L701.86,38.28 L703.40,37.80 L704.94,37.32 L706.48,36.83 L708.03,36.35 L709.57,35.87 L711.11,35.38 L712.65,34.90 L714.19,34.42 L715.74,33.93 L717.28,33.45 L718.82,32.96 L720.36,32.48 L721.91,31.99 L723.45,31.50 L724.99,31.02 L726.53,30.53 L728.08,30.05 L729.62,29.56 L731.16,29.07 L732.70,28.58 L734.24,28.10 L735.79,27.61 L737.33,27.12 L738.87,26.63 L740.41,26.14 L741.96,25.66 L743.50,25.17 L745.04,24.68 L746.58,24.19 L748.13,23.70 L749.67,23.21 L751.21,22.72 L752.75,22.23 L754.29,21.74 L755.84,21.24 L757.38,20.75 L758.92,20.26 L760.46,19.77 L762.01,19.28 L763.55,18.79 L765.09,18.29 L766.63,17.80" stroke="#000000" />
</g>
<g font-family="'Liberation Serif', serif"><text x="90.78" y="29.60" font-size="35">10</text>
<text x="107.11" y="141.25" font-size="35">1</text>
<text x="61.33" y="256.50" font-size="35">10</text>
<text x="96.00" y="242.10" font-size="24">−1</text>
<text x="61.33" y="368.55" font-size="35">10</text>
<text x="96.00" y="354.15" font-size="24">−2</text>
<text x="61.33" y="480.60" font-size="35">10</text>
<text x="96.00" y="466.20" font-size="24">−3</text>
<text x="126.03" y="507.90" font-size="35">100</text>
<text x="456.63" y="507.90" font-size="35">300</text>
<text x="812.38" y="507.90" font-size="35">1000</text>
<text x="429.31" y="569.7" font-size="35.2" font-style="italic">M</text>
<text x="469.96" y="569.7" font-size="35.2">in</text>
<text transform="translate(504.99,569.7) scale(0.978,1)" font-size="35.2">GeV</text>
<text transform="translate(29.8,308.10) rotate(-90)" font-size="34.8">&#915; in 1/cm</text></g>
<g fill="none"><path d="M1001.9,42.08 H1041.1" stroke="#000000" stroke-width="2.2" stroke-linecap="round"/>
<path d="M1001.9,137.85 H1041.1" stroke="#0000ff" stroke-width="2.2" stroke-linecap="round"/>
<path d="M1001.9,233.28 H1041.1" stroke="#ff0000" stroke-width="2.2" stroke-linecap="round"/>
<path d="M1001.9,329.05 H1041.1" stroke="#ff0000" stroke-width="2.2" stroke-linecap="round" stroke-dasharray="15.7 15.3"/>
<path d="M1001.9,424.40 H1041.1" stroke="#0000ff" stroke-width="2.2" stroke-linecap="round" stroke-dasharray="15.7 15.3"/>
<text x="1090.26" y="50.90" font-family='"Liberation Serif", serif' font-size="36" font-style="italic">N</text>
<text x="1113.16" y="56.35" font-family='"Liberation Serif", serif' font-size="24.8">0</text>
<text transform="translate(1138.40,52.75) scale(1.02,1.12)" font-family='"Noto Sans CJK JP", sans-serif' font-size="26">→</text>
<text transform="translate(1173.10,50.90) scale(0.8,1)" font-family='"DejaVu Math TeX Gyre", serif' font-size="31" font-style="italic" stroke="#000" stroke-width="0.35">ν</text>
<text x="1188.90" y="50.90" font-family='"Liberation Serif", serif' font-size="36" font-style="italic">h</text>
<text x="1204.03" y="50.90" font-family='"Liberation Serif", serif' font-size="36">,</text>
<text x="1225.96" y="50.90" font-family='"Liberation Serif", serif' font-size="36" font-style="italic">N</text>
<text x="1249.33" y="36.10" font-family='"DejaVu Math TeX Gyre", serif' font-size="19.6">±</text>
<text transform="translate(1276.30,52.75) scale(1.02,1.12)" font-family='"Noto Sans CJK JP", sans-serif' font-size="26">→</text>
<text transform="translate(1309.65,50.90) scale(0.8,1)" font-family='"DejaVu Math TeX Gyre", serif' font-size="30.5" font-style="italic" stroke="#000" stroke-width="0.75">ℓ</text>
<text x="1325.43" y="36.10" font-family='"DejaVu Math TeX Gyre", serif' font-size="19.6">±</text>
<text x="1342.50" y="50.90" font-family='"Liberation Serif", serif' font-size="36" font-style="italic">h</text>
<text x="1090.26" y="145.90" font-family='"Liberation Serif", serif' font-size="36" font-style="italic">N</text>
<text x="1113.16" y="152.55" font-family='"Liberation Serif", serif' font-size="24.8">0</text>
<text transform="translate(1138.40,147.75) scale(1.02,1.12)" font-family='"Noto Sans CJK JP", sans-serif' font-size="26">→</text>
<text x="1174.06" y="145.90" font-family='"Liberation Serif", serif' font-size="36" font-style="italic">Z</text>
<text transform="translate(1193.00,145.90) scale(0.8,1)" font-family='"DejaVu Math TeX Gyre", serif' font-size="31" font-style="italic" stroke="#000" stroke-width="0.35">ν</text>
<text x="1211.43" y="145.90" font-family='"Liberation Serif", serif' font-size="36">,</text>
<text x="1229.26" y="145.90" font-family='"Liberation Serif", serif' font-size="36" font-style="italic">N</text>
<text x="1253.23" y="131.10" font-family='"DejaVu Math TeX Gyre", serif' font-size="19.6">±</text>
<text transform="translate(1279.90,147.75) scale(1.02,1.12)" font-family='"Noto Sans CJK JP", sans-serif' font-size="26">→</text>
<text x="1315.36" y="145.90" font-family='"Liberation Serif", serif' font-size="36" font-style="italic">Z</text>
<text transform="translate(1334.85,145.90) scale(0.8,1)" font-family='"DejaVu Math TeX Gyre", serif' font-size="30.5" font-style="italic" stroke="#000" stroke-width="0.75">ℓ</text>
<text x="1350.63" y="131.10" font-family='"DejaVu Math TeX Gyre", serif' font-size="19.6">±</text>
<text x="1090.36" y="240.90" font-family='"Liberation Serif", serif' font-size="36" font-style="italic">N</text>
<text x="1113.56" y="248.15" font-family='"Liberation Serif", serif' font-size="24.8">0</text>
<text transform="translate(1138.60,242.75) scale(1.02,1.12)" font-family='"Noto Sans CJK JP", sans-serif' font-size="26">→</text>
<text transform="translate(1176.08,240.90) scale(0.850,1.000)" font-family='"Liberation Serif", serif' font-size="36" font-style="italic">W</text>
<text x="1202.13" y="226.20" font-family='"DejaVu Math TeX Gyre", serif' font-size="19.6">±</text>
<text transform="translate(1217.55,240.90) scale(0.8,1)" font-family='"DejaVu Math TeX Gyre", serif' font-size="30.5" font-style="italic" stroke="#000" stroke-width="0.75">ℓ</text>
<text x="1233.13" y="226.20" font-family='"DejaVu Math TeX Gyre", serif' font-size="19.6">∓</text>
<text x="1250.53" y="240.90" font-family='"Liberation Serif", serif' font-size="36">,</text>
<text x="1268.66" y="240.90" font-family='"Liberation Serif", serif' font-size="36" font-style="italic">N</text>
<text x="1293.93" y="226.20" font-family='"DejaVu Math TeX Gyre", serif' font-size="19.6">±</text>
<text transform="translate(1321.80,242.75) scale(1.02,1.12)" font-family='"Noto Sans CJK JP", sans-serif' font-size="26">→</text>
<text transform="translate(1359.68,240.90) scale(0.850,1.000)" font-family='"Liberation Serif", serif' font-size="36" font-style="italic">W</text>
<text x="1389.23" y="226.20" font-family='"DejaVu Math TeX Gyre", serif' font-size="19.6">±</text>
<text transform="translate(1406.60,240.90) scale(0.8,1)" font-family='"DejaVu Math TeX Gyre", serif' font-size="31" font-style="italic" stroke="#000" stroke-width="0.35">ν</text>
<text x="1090.36" y="336.40" font-family='"Liberation Serif", serif' font-size="36" font-style="italic">N</text>
<text x="1115.63" y="321.80" font-family='"DejaVu Math TeX Gyre", serif' font-size="19.6">±</text>
<text transform="translate(1143.30,338.25) scale(1.02,1.12)" font-family='"Noto Sans CJK JP", sans-serif' font-size="26">→</text>
<text x="1179.16" y="336.40" font-family='"Liberation Serif", serif' font-size="36" font-style="italic">N</text>
<text x="1203.06" y="343.15" font-family='"Liberation Serif", serif' font-size="24.8">0</text>
<text stroke="#000" stroke-width="0.45" x="1217.71" y="336.40" font-family='"Liberation Serif", serif' font-size="36" font-style="italic">π</text>
<text x="1235.23" y="321.80" font-family='"DejaVu Math TeX Gyre", serif' font-size="19.6">±</text>
<text x="1090.36" y="432.70" font-family='"Liberation Serif", serif' font-size="36" font-style="italic">N</text>
<text x="1115.63" y="417.50" font-family='"DejaVu Math TeX Gyre", serif' font-size="19.6">±</text>
<text transform="translate(1143.30,434.55) scale(1.02,1.12)" font-family='"Noto Sans CJK JP", sans-serif' font-size="26">→</text>
<text x="1179.76" y="432.70" font-family='"Liberation Serif", serif' font-size="36" font-style="italic">N</text>
<text x="1203.06" y="438.45" font-family='"Liberation Serif", serif' font-size="24.8">0</text>
<text transform="translate(1216.65,432.70) scale(0.8,1)" font-family='"DejaVu Math TeX Gyre", serif' font-size="30.5" font-style="italic" stroke="#000" stroke-width="0.75">ℓ</text>
<text x="1230.53" y="417.50" font-family='"DejaVu Math TeX Gyre", serif' font-size="19.6">±</text>
<text transform="translate(1245.00,432.70) scale(0.8,1)" font-family='"DejaVu Math TeX Gyre", serif' font-size="31" font-style="italic" stroke="#000" stroke-width="0.35">ν</text></g>
</svg></body></html>
